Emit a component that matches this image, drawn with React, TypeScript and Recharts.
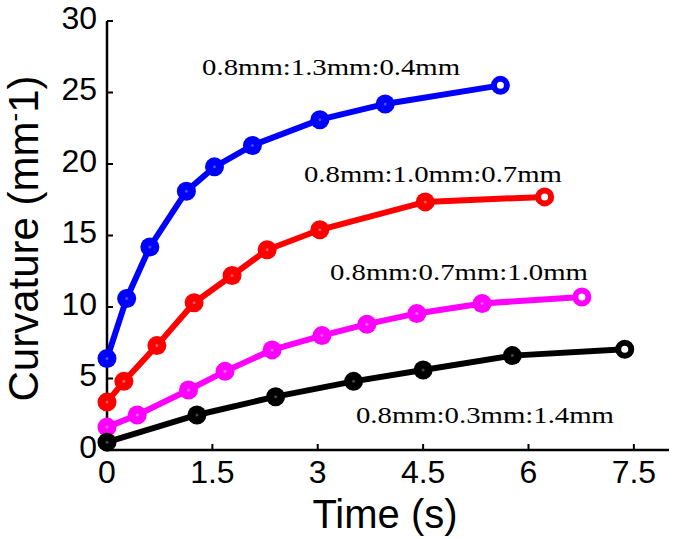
import { LineChart, Line, XAxis, YAxis, ReferenceDot } from 'recharts'

// Time (s) and curvature (mm^-1) for each beam ratio
const blueTime = [0, 0.28, 0.61, 1.13, 1.53, 2.07, 3.03, 3.96, 5.6]
const blueCurv = [6.4, 10.6, 14.2, 18.1, 19.8, 21.3, 23.1, 24.2, 25.5]

const redTime = [0, 0.24, 0.71, 1.24, 1.78, 2.28, 3.03, 4.53, 6.23]
const redCurv = [3.35, 4.8, 7.3, 10.3, 12.2, 14.0, 15.4, 17.35, 17.7]

const magentaTime = [0, 0.43, 1.16, 1.68, 2.35, 3.06, 3.7, 4.41, 5.34, 6.76]
const magentaCurv = [1.6, 2.45, 4.2, 5.5, 7.0, 8.0, 8.8, 9.55, 10.25, 10.7]

const blackTime = [0, 1.28, 2.4, 3.51, 4.5, 5.77, 7.37]
const blackCurv = [0.55, 2.45, 3.73, 4.8, 5.6, 6.6, 7.05]

const ratioLabels = ['0.8mm:1.3mm:0.4mm', '0.8mm:1.0mm:0.7mm', '0.8mm:0.7mm:1.0mm', '0.8mm:0.3mm:1.4mm']

const xTicks = [0, 1.5, 3, 4.5, 6, 7.5]
const yTicks = [0, 5, 10, 15, 20, 25, 30]

const SANS = '"Liberation Sans", Arial, Helvetica, sans-serif'
const SERIF = '"Liberation Serif", "Times New Roman", serif'

const toPoints = (t: number[], c: number[]) => t.map((time, i) => ({ time, curvature: c[i] }))

const series = [
  { key: 'blue', color: '#0000ff', hub: '#4a4aff', data: toPoints(blueTime, blueCurv) },
  { key: 'red', color: '#ff0000', hub: '#ff5a5a', data: toPoints(redTime, redCurv) },
  { key: 'magenta', color: '#ff00ff', hub: '#ff66ff', data: toPoints(magentaTime, magentaCurv) },
  { key: 'black', color: '#000000', hub: '#444444', data: toPoints(blackTime, blackCurv) },
]

// where each ratio label sits, in data units (centre x, baseline y)
const notePos = [
  [3.19, 26.2],
  [4.64, 18.75],
  [5.01, 11.88],
  [5.38, 1.91],
]

function makeDot(color: string, hub: string, last: number) {
  return (p: any) => {
    const { cx, cy, index } = p
    if (index === last) {
      return <circle key={`d${index}`} cx={cx} cy={cy} r={6.5} fill="#fff" stroke={color} strokeWidth={6} />
    }
    return (
      <g key={`d${index}`}>
        <circle cx={cx} cy={cy} r={9.5} fill={color} />
        <circle cx={cx} cy={cy} r={1.5} fill={hub} />
      </g>
    )
  }
}

const XTick = ({ x, y, payload }: any) => (
  <text x={x} y={y} dy={39} textAnchor="middle" fontSize={32} fontFamily={SANS} fill="#000">
    {payload.value}
  </text>
)

const YTick = ({ x, y, payload }: any) => (
  <text x={x} y={y} dy={7.5} textAnchor="end" fontSize={32} fontFamily={SANS} fill="#000">
    {payload.value}
  </text>
)

const XTitle = ({ viewBox }: any) => (
  <text x={viewBox.x + viewBox.width / 2 - 3} y={viewBox.y + 78} textAnchor="middle" fontSize={40} fontFamily={SANS} fill="#000">
    Time (s)
  </text>
)

const YTitle = ({ viewBox }: any) => {
  const x = viewBox.x + 38
  const y = viewBox.y + viewBox.height / 2 + 3
  return (
    <text x={x} y={y} transform={`rotate(-90 ${x} ${y})`} textAnchor="middle" fontSize={42} fontFamily={SANS} fill="#000">
      Curvature (mm<tspan dy={-15} fontSize={26}>-</tspan><tspan dy={15}>1)</tspan>
    </text>
  )
}

const noteShape = (text: string) => (p: any) => (
  <text
    x={p.cx}
    y={p.cy}
    textAnchor="middle"
    fontSize={23}
    fontFamily={SERIF}
    fill="#000"
    textLength={258}
    lengthAdjust="spacingAndGlyphs"
  >
    {text}
  </text>
)

const frameLine = { stroke: '#000', strokeWidth: 2.5 }
const tickLine = { stroke: '#000', strokeWidth: 2 }

export default function App() {
  return (
    <div style={{ position: 'absolute', left: 0, top: 0, background: '#fff' }}>
      <LineChart width={675} height={539} margin={{ top: 21, right: 6, bottom: 0, left: 0 }}>
        <XAxis
          dataKey="time"
          type="number"
          domain={[0, 8]}
          ticks={xTicks}
          interval={0}
          height={89}
          tickSize={-6}
          tickMargin={0}
          tick={XTick}
          axisLine={frameLine}
          tickLine={tickLine}
          label={{ content: XTitle }}
        />
        <XAxis
          xAxisId="top"
          orientation="top"
          type="number"
          domain={[0, 8]}
          ticks={xTicks}
          interval={0}
          height={0}
          tickSize={-6}
          tick={false}
          axisLine={frameLine}
          tickLine={tickLine}
        />
        <YAxis
          type="number"
          domain={[0, 30]}
          ticks={yTicks}
          interval={0}
          width={107}
          tickSize={-6}
          tickMargin={16}
          tick={YTick}
          axisLine={frameLine}
          tickLine={tickLine}
          label={{ content: YTitle }}
        />
        <YAxis
          yAxisId="right"
          orientation="right"
          type="number"
          domain={[0, 30]}
          ticks={yTicks}
          interval={0}
          width={0}
          tickSize={-6}
          tick={false}
          axisLine={frameLine}
          tickLine={tickLine}
        />
        {series.map((s) => (
          <Line
            key={s.key}
            data={s.data}
            dataKey="curvature"
            type="linear"
            stroke={s.color}
            strokeWidth={6}
            dot={makeDot(s.color, s.hub, s.data.length - 1)}
            activeDot={false}
            isAnimationActive={false}
          />
        ))}
        {ratioLabels.map((txt, i) => (
          <ReferenceDot key={txt} x={notePos[i][0]} y={notePos[i][1]} r={1} shape={noteShape(txt)} />
        ))}
      </LineChart>
    </div>
  )
}
